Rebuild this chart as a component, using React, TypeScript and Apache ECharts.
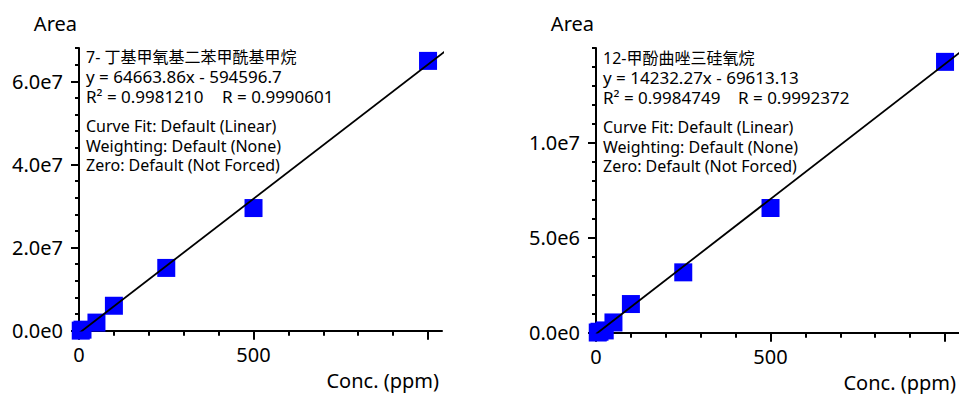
import React, { useEffect, useRef } from "react";
import * as echarts from "echarts";

const FONT = "'Noto Sans', 'Noto Sans CJK SC', sans-serif";

// ---------- shared ----------
const xName = "Conc. (ppm)";
const yName = "Area";
const xMax = 1040;
const xMajorTicks = [0, 500, 1000];
const xLabelValues = [0, 500];
const xMinorTicks = [100, 200, 300, 400, 600, 700, 800, 900];
const fitInfo = [
  "Curve Fit: Default (Linear)",
  "Weighting: Default (None)",
  "Zero: Default (Not Forced)",
];

// ---------- left chart ----------
const leftTitle = "7- 丁基甲氧基二苯甲酰基甲烷";
const leftEquation = "y = 64663.86x - 594596.7";
const leftR2 = "R² = 0.9981210";
const leftR = "R = 0.9990601";
const leftSlope = 64663.86;
const leftIntercept = -594596.7;
const leftConc = [5, 10, 50, 100, 250, 500, 1000];
const leftArea = [2.0e4, 2.5e5, 1.95e6, 6.0e6, 1.51e7, 2.95e7, 6.49e7];
const leftYMax = 6.8e7;
const leftYMajorTicks = [0, 2e7, 4e7, 6e7];
const leftYMinorStep = 4e6;

// ---------- right chart ----------
const rightTitle = "12-甲酚曲唑三硅氧烷";
const rightEquation = "y = 14232.27x - 69613.13";
const rightR2 = "R² = 0.9984749";
const rightR = "R = 0.9992372";
const rightSlope = 14232.27;
const rightIntercept = -69613.13;
const rightConc = [5, 10, 25, 50, 100, 250, 500, 1000];
const rightArea = [1.0e4, 5.0e4, 1.2e5, 5.4e5, 1.51e6, 3.18e6, 6.57e6, 1.427e7];
const rightYMax = 1.5e7;
const rightYMajorTicks = [0, 5e6, 1e7];
const rightYMinorStep = 1e6;

function stepsUpTo(step: number, max: number): number[] {
  const out: number[] = [];
  for (let i = 0; i * step <= max + 1e-6; i++) out.push(i * step);
  return out;
}

const expFmt = (v: number) => v.toExponential(1).replace("e+", "e");

export default function App() {
  const ref = useRef<HTMLDivElement>(null);

  useEffect(() => {
    document.body.style.margin = "0";
    if (!ref.current) return;
    const chart = echarts.init(ref.current, null, { renderer: "svg" });

    const panels = [
      {
        left: 79, top: 48, width: 363, height: 282.7,
        yMax: leftYMax, yMajor: leftYMajorTicks, yMinor: stepsUpTo(leftYMinorStep, leftYMax),
        conc: leftConc, area: leftArea, slope: leftSlope, intercept: leftIntercept,
        title: leftTitle, eq: leftEquation, r2: leftR2, r: leftR,
        textX: 86, rX: 222, textY: 57,
      },
      {
        left: 596, top: 48, width: 363, height: 284.7,
        yMax: rightYMax, yMajor: rightYMajorTicks, yMinor: stepsUpTo(rightYMinorStep, rightYMax),
        conc: rightConc, area: rightArea, slope: rightSlope, intercept: rightIntercept,
        title: rightTitle, eq: rightEquation, r2: rightR2, r: rightR,
        textX: 603, rX: 738, textY: 58,
      },
    ];

    const axisLineStyle = { color: "#000", width: 2 };
    const grid: any[] = [];
    const xAxis: any[] = [];
    const yAxis: any[] = [];
    const series: any[] = [];
    const graphic: any[] = [];

    const addText = (text: string, x: number, y: number, size: number) => {
      graphic.push({
        type: "text", x, y, z: 10,
        style: {
          text, fontFamily: FONT, fontSize: size, lineHeight: 18, fill: "#000",
          align: "left", verticalAlign: "middle",
        },
      });
    };

    panels.forEach((p, gi) => {
      grid.push({ left: p.left, top: p.top, width: p.width, height: p.height, containLabel: false });
      xAxis.push({
        type: "value", gridIndex: gi, min: 0, max: xMax, position: "bottom",
        name: xName, nameLocation: "end", nameGap: -3,
        nameTextStyle: {
          fontFamily: FONT, fontSize: 20, color: "#000",
          align: "right", verticalAlign: "top", padding: [40, 0, 0, 0],
        },
        axisLine: { show: true, onZero: false, lineStyle: axisLineStyle },
        axisTick: { show: true, length: 9, customValues: xMajorTicks, lineStyle: axisLineStyle },
        axisLabel: {
          show: true, customValues: xLabelValues, margin: 14,
          fontFamily: FONT, fontSize: 20, color: "#000",
        },
        splitLine: { show: false },
      });
      xAxis.push({
        type: "value", gridIndex: gi, min: 0, max: xMax, position: "bottom", offset: 0,
        axisLine: { show: false },
        axisTick: { show: true, length: 5, customValues: xMinorTicks, lineStyle: axisLineStyle },
        axisLabel: { show: false },
        splitLine: { show: false },
      });
      yAxis.push({
        type: "value", gridIndex: gi, min: 0, max: p.yMax, position: "left",
        name: yName, nameLocation: "end", nameGap: 15,
        nameTextStyle: {
          fontFamily: FONT, fontSize: 20, color: "#000",
          align: "right", verticalAlign: "bottom", padding: [0, 2, 0, 0],
        },
        axisLine: { show: true, onZero: false, lineStyle: axisLineStyle },
        axisTick: { show: true, length: 8, customValues: p.yMajor, lineStyle: axisLineStyle },
        axisLabel: {
          show: true, customValues: p.yMajor, margin: 16, formatter: expFmt,
          fontFamily: FONT, fontSize: 20, color: "#000",
        },
        splitLine: { show: false },
      });
      yAxis.push({
        type: "value", gridIndex: gi, min: 0, max: p.yMax, position: "left", offset: 0,
        axisLine: { show: false },
        axisTick: { show: true, length: 4, customValues: p.yMinor, lineStyle: axisLineStyle },
        axisLabel: { show: false },
        splitLine: { show: false },
      });

      series.push({
        type: "scatter",
        xAxisIndex: gi * 2,
        yAxisIndex: gi * 2,
        symbol: "rect",
        symbolSize: 18,
        clip: false,
        z: 2,
        itemStyle: { color: "#0000ff", opacity: 1 },
        data: p.conc.map((c, i) => [c, p.area[i]]),
      });
      const xEnd = 1200;
      series.push({
        type: "line",
        xAxisIndex: gi * 2,
        yAxisIndex: gi * 2,
        showSymbol: false,
        symbol: "none",
        clip: true,
        z: 3,
        silent: true,
        lineStyle: { color: "#000", width: 1.8 },
        data: [
          [0, p.intercept],
          [xEnd, p.slope * xEnd + p.intercept],
        ],
      });

      const lh = 19.5;
      addText(p.title, p.textX, p.textY, 16);
      addText(p.eq, p.textX, p.textY + lh, 17);
      addText(p.r2, p.textX, p.textY + 2 * lh, 17);
      addText(p.r, p.rX, p.textY + 2 * lh, 17);
      fitInfo.forEach((t, i) => addText(t, p.textX, p.textY + 69 + i * lh, 16));
    });

    chart.setOption({
      animation: false,
      backgroundColor: "#fff",
      textStyle: { fontFamily: FONT },
      grid,
      xAxis,
      yAxis,
      series,
      graphic,
    });

    return () => chart.dispose();
  }, []);

  return <div ref={ref} style={{ width: 959, height: 394 }} />;
}
